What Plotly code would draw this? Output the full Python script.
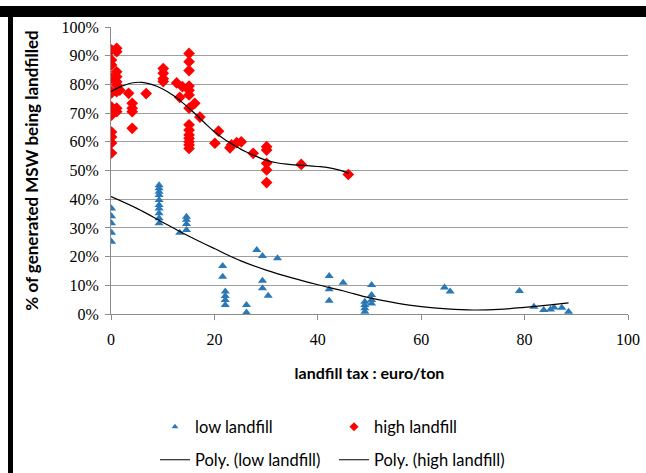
import plotly.graph_objects as go

# ---- data ----
high_tax = [0.1, 0.1, 0.1, 0.1, 0.1, 0.1, 0.1, 0.1, 0.1, 0.1, 0.1, 0.1, 0.1,
            1.1, 1.1, 1.1, 1.1, 1.1, 1.1, 1.1, 1.1, 1.1, 1.7,
            3.4, 4.1, 4.1, 4.1, 4.1, 6.8,
            10.1, 10.1, 10.1, 10.1, 12.7, 13.3, 13.8,
            15.1, 15.1, 15.1, 15.1, 15.1, 15.1, 15.1, 15.1, 15.1, 15.1, 15.1, 15.1, 15.1, 15.1,
            16.2, 17.2, 20.1, 20.8, 23.0, 23.3, 24.3, 25.2, 27.5,
            30.1, 30.1, 30.1, 30.1, 30.1, 36.8, 45.9]
high_pct = [92.0, 88.5, 86.8, 82.2, 77.4, 77.0, 72.1, 70.4, 69.3, 63.4, 61.7, 59.6, 56.1,
            92.6, 91.4, 84.4, 82.7, 80.9, 79.8, 77.5, 71.7, 70.5, 78.0,
            76.9, 73.4, 71.7, 70.5, 64.7, 76.8,
            85.5, 83.9, 82.0, 81.0, 80.5, 75.5, 79.2,
            90.8, 87.9, 84.8, 79.4, 78.0, 76.3, 71.7, 65.9, 64.1, 62.4, 61.2, 60.0, 58.9, 57.7,
            73.4, 68.6, 59.5, 63.7, 57.9, 58.9, 59.7, 60.0, 56.0,
            58.3, 57.1, 52.5, 50.2, 45.8, 52.1, 48.6]

low_tax = [0.1, 0.1, 0.1, 0.1, 0.1,
           9.3, 9.3, 9.3, 9.3, 9.3, 9.3, 9.3, 9.3, 9.3, 9.3,
           13.3, 14.6, 14.6, 14.6, 14.6,
           21.6, 21.6, 22.1, 22.1, 22.1, 22.1,
           26.2, 26.2, 28.2, 29.3, 32.2, 29.3, 29.3, 30.4,
           42.2, 42.2, 42.2, 44.9,
           49.1, 49.1, 49.1, 49.1, 50.4, 50.4, 50.4, 50.4,
           64.5, 65.6, 79.0, 81.8, 83.7, 85.0, 85.7, 87.2, 88.5]
low_pct = [36.8, 34.1, 31.6, 28.3, 25.2,
           44.9, 43.8, 42.6, 41.5, 39.7, 38.0, 36.8, 35.1, 33.4, 31.6,
           28.3, 33.9, 32.8, 31.4, 29.3,
           16.7, 13.0, 7.8, 6.3, 4.9, 3.1,
           3.1, 0.5, 22.3, 20.2, 19.4, 11.6, 9.0, 6.4,
           13.2, 8.6, 4.6, 10.9,
           4.3, 3.1, 2.0, 0.8, 10.1, 6.6, 4.9, 3.7,
           9.2, 7.8, 8.0, 2.5, 1.4, 1.6, 2.3, 2.2, 0.8]

# polynomial trendlines
poly_high_x = [0, 2, 4, 6, 8, 10, 12, 14, 16, 18, 20, 22, 24, 26, 28, 30, 32, 34, 36, 38, 40, 42, 44, 46]
poly_high_y = [77.5, 79.3, 80.5, 80.7, 79.9, 78.4, 76.2, 73.4, 70.2, 66.8, 63.5, 60.8, 58.6, 56.6,
               55.0, 53.6, 52.7, 52.2, 51.9, 51.7, 51.4, 51.0, 50.2, 49.0]
poly_low_x = [0, 5, 10, 15, 20, 25, 30, 35, 40, 45, 50, 55, 60, 65, 70, 75, 80, 85, 88.5]
poly_low_y = [40.9, 36.8, 32.0, 27.2, 22.8, 18.6, 15.3, 12.6, 10.2, 8.0, 5.6, 3.9, 2.6, 1.8,
              1.4, 1.6, 2.3, 3.2, 3.9]

x_ticks = [0, 20, 40, 60, 80, 100]
y_ticks = [0, 10, 20, 30, 40, 50, 60, 70, 80, 90, 100]
y_tick_text = [f"{v}%" for v in y_ticks]

W, H = 646, 473
L, R, T, B = 111, 18, 27, 159
pw, ph = W - L - R, H - T - B


def px(xp):
    return (xp - L) / pw


def py(yp):
    return (H - B - yp) / ph


BLUE = "#2A78B6"
RED = "#FF0000"

fig = go.Figure()
fig.add_trace(go.Scatter(x=low_tax, y=low_pct, mode="markers", name="low landfill",
                         marker=dict(symbol="triangle-up", size=8, color=BLUE),
                         showlegend=False))
fig.add_trace(go.Scatter(x=high_tax, y=high_pct, mode="markers", name="high landfill",
                         marker=dict(symbol="diamond", size=9, color=RED),
                         showlegend=False))
fig.add_trace(go.Scatter(x=poly_low_x, y=poly_low_y, mode="lines", name="Poly. (low landfill)",
                         line=dict(color="black", width=1.2, shape="spline"),
                         legend="legend2"))
fig.add_trace(go.Scatter(x=poly_high_x, y=poly_high_y, mode="lines", name="Poly. (high landfill)",
                         line=dict(color="black", width=1.2, shape="spline"),
                         legend="legend2"))
# legend entries with the small symbols used in the original legend
fig.add_trace(go.Scatter(x=[None], y=[None], mode="markers", name="low landfill",
                         marker=dict(symbol="triangle-up", size=6, color=BLUE), legend="legend"))
fig.add_trace(go.Scatter(x=[None], y=[None], mode="markers", name="high landfill",
                         marker=dict(symbol="diamond", size=7, color=RED), legend="legend"))

legend_font = dict(family="Lato", size=16.5, color="black")
fig.update_layout(
    width=W, height=H,
    margin=dict(l=L, r=R, t=T, b=B, autoexpand=False),
    paper_bgcolor="white", plot_bgcolor="white",
    showlegend=True,
    legend=dict(orientation="h", x=px(155), y=py(427), xanchor="left", yanchor="middle",
                entrywidth=134, font=legend_font, bgcolor="rgba(0,0,0,0)"),
    legend2=dict(orientation="h", x=px(155), y=py(460), xanchor="left", yanchor="middle",
                 entrywidth=134, font=legend_font, bgcolor="rgba(0,0,0,0)"),
    xaxis=dict(range=[0, 100], tickvals=x_ticks, showgrid=False, zeroline=False,
               showline=True, linecolor="#8c8c8c", linewidth=1,
               ticks="outside", ticklen=5, tickcolor="#8c8c8c", ticklabelstandoff=6,
               tickfont=dict(family="Liberation Serif", size=16, color="black"),
               title=dict(text="<b>landfill tax : euro/ton</b>",
                          font=dict(family="Lato", size=16, color="black"), standoff=20)),
    yaxis=dict(range=[0, 100], tickvals=y_ticks, ticktext=y_tick_text,
               showgrid=True, gridcolor="#9e9e9e", gridwidth=1, zeroline=False,
               showline=True, linecolor="#8c8c8c", linewidth=1,
               ticks="outside", ticklen=5, tickcolor="#8c8c8c", ticklabelstandoff=3,
               tickfont=dict(family="Liberation Serif", size=16, color="black"),
               title=dict(text="<b>% of generated MSW being landfilled</b>",
                          font=dict(family="Lato", size=17, color="black"), standoff=18)),
    shapes=[
        dict(type="rect", xref="paper", yref="paper", x0=px(0), x1=px(W + 5),
             y0=py(17), y1=py(6), fillcolor="black", line=dict(width=0), layer="above"),
        dict(type="rect", xref="paper", yref="paper", x0=px(8), x1=px(13),
             y0=py(H + 5), y1=py(6), fillcolor="black", line=dict(width=0), layer="above"),
    ],
)

fig.write_html("out.html", config={"displayModeBar": False},
               post_script="document.body.style.margin='0';document.body.style.overflow='hidden';")
